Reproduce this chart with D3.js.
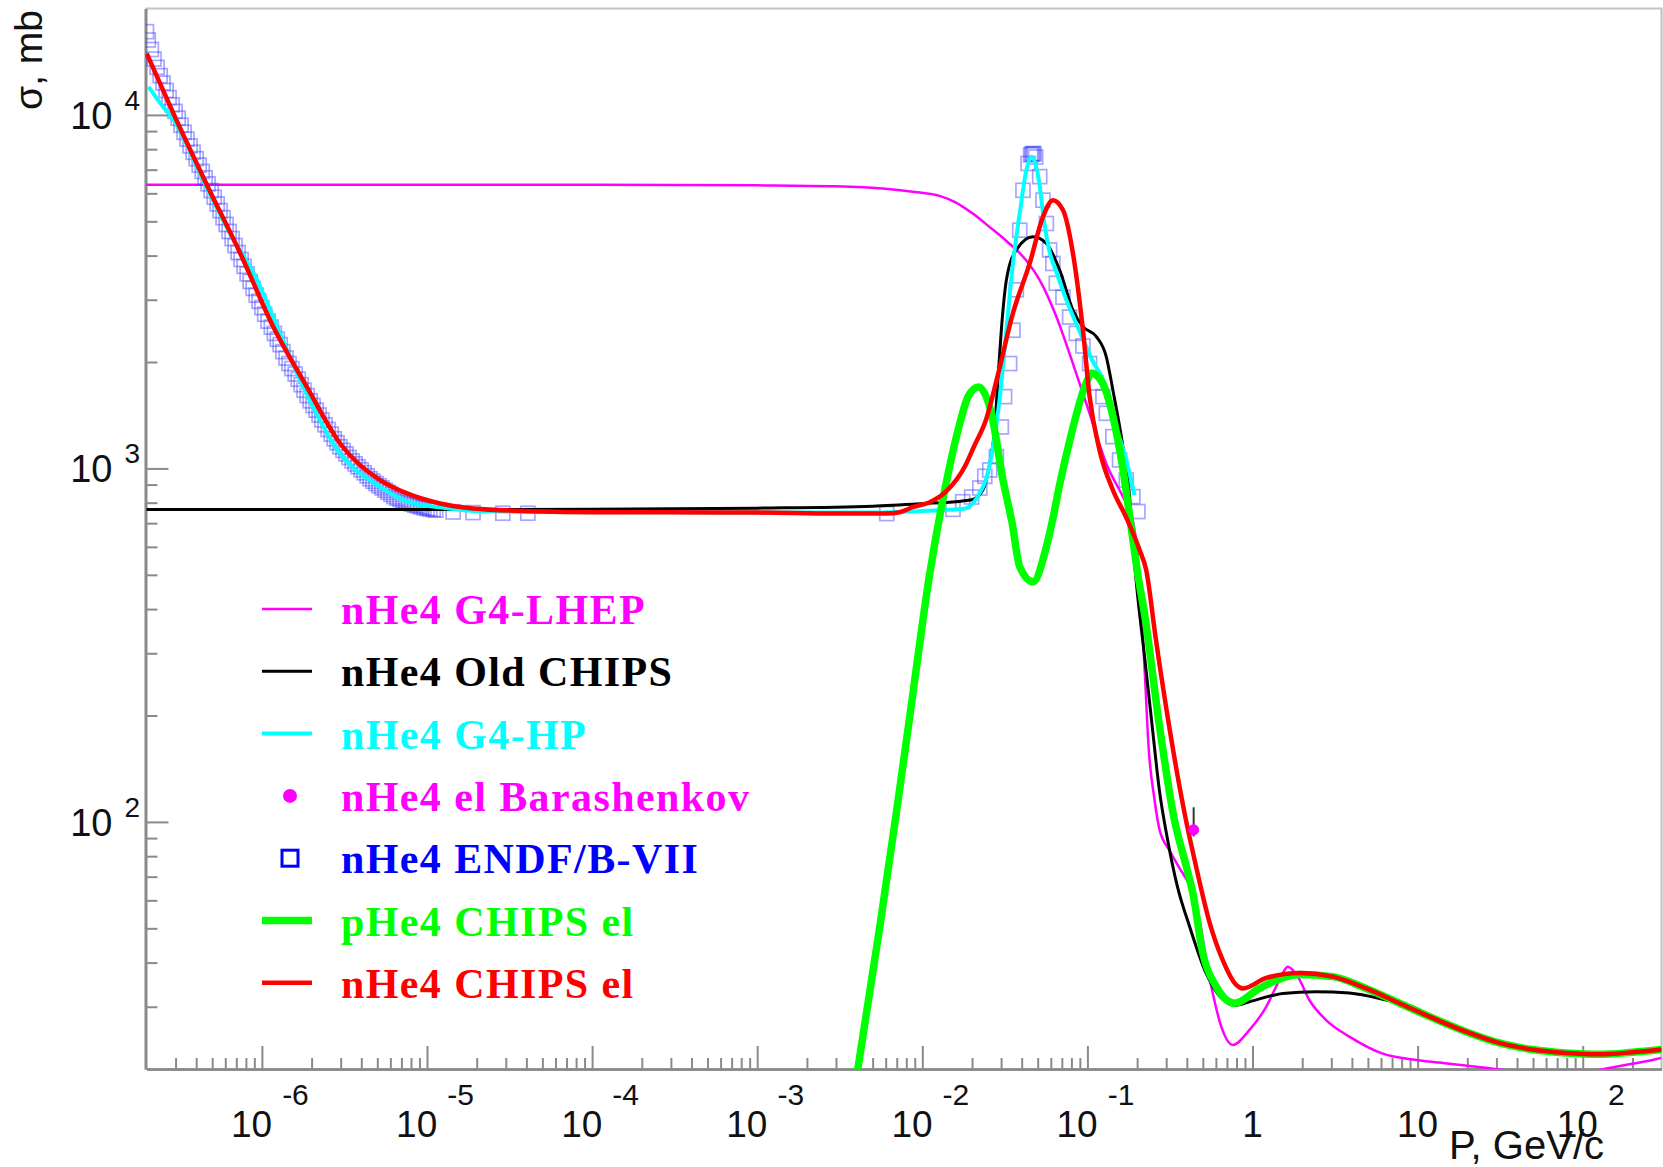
<!DOCTYPE html>
<html><head><meta charset="utf-8">
<script src="https://cdn.jsdelivr.net/npm/d3@7"></script>
<style>html,body{margin:0;padding:0;background:#fff}svg{display:block}</style>
</head><body>
<svg id="chart" width="1663" height="1167"></svg>
<script>
// ---------------- DATA (P in GeV/c, sigma in mb) ----------------
const g4lhep = [[2e-7,6350],[1e-5,6350],[1e-4,6350],[1e-3,6320],[3e-3,6280],[6e-3,6180],[9e-3,6050],[0.0127,5900],[0.016,5650],[0.0203,5250],[0.0258,4800],[0.0323,4400],[0.0425,3880],[0.0514,3410],[0.0648,2690],[0.0817,1980],[0.1031,1430],[0.130,1033],[0.164,832],[0.185,740],[0.205,520],[0.223,260],[0.2347,163],[0.2554,115],[0.2734,95],[0.3145,83],[0.3614,74],[0.4158,66],[0.478,52.7],[0.5247,40.6],[0.575,32.7],[0.6462,26.4],[0.76,23.4],[0.959,25.8],[1.21,30],[1.457,35.7],[1.636,38.9],[1.88,36.5],[2.214,31.3],[2.79,27.5],[3.86,24.7],[6.15,22.1],[9.8,21.2],[15.6,20.7],[24.9,20.2],[39.6,19.7],[62.9,19.5],[100,19.6],[159,20.3],[200,20.7],[277,21.3],[300,21.5]];

const oldChips = [[2e-7,765],[1e-5,765],[1e-4,766],[1e-3,772],[5e-3,782],[0.01,795],[0.0171,808],[0.0200,815],[0.0233,870],[0.0256,1033],[0.0274,1283],[0.0287,1778],[0.0301,2462],[0.0323,3410],[0.0371,4150],[0.0468,4520],[0.0564,4330],[0.0679,3640],[0.0817,2805],[0.0939,2518],[0.1132,2360],[0.130,2072],[0.1426,1667],[0.164,1152],[0.180,832],[0.193,539],[0.2233,286],[0.2467,187],[0.273,122.6],[0.3015,92.4],[0.350,65.9],[0.4158,50.6],[0.5225,37.4],[0.638,32.0],[0.797,30.3],[0.959,31.0],[1.525,32.7],[2.43,33.1],[3.86,32.8],[6.15,31.5],[9.8,29.7],[12.3,27.9],[19.6,25.5],[31.2,23.7],[49.6,22.7],[78.9,22.2],[125.6,22.0],[200,22.3],[300,22.7]];

const g4hp = [[2.06e-7,12000],[2.42e-7,10800],[2.91e-7,9690],[4.6e-7,6270],[6.7e-7,4450],[8.1e-7,3850],[9.1e-7,3500],[1.02e-6,3120],[1.17e-6,2680],[1.78e-6,1702],[2.97e-6,1104],[5.19e-6,887],[8.26e-6,796],[1.2e-5,776],[2.1e-5,757],[1e-4,752],[1e-3,750],[5e-3,750],[0.0127,762],[0.0176,768],[0.0204,800],[0.0225,860],[0.0245,940],[0.0268,1152],[0.0295,1596],[0.0323,2462],[0.0354,3800],[0.0389,5270],[0.0427,6980],[0.0459,7620],[0.0514,6300],[0.0546,5000],[0.0590,4100],[0.0648,3600],[0.0745,3000],[0.0898,2440],[0.1083,2000],[0.1246,1780],[0.1426,1400],[0.1719,1057],[0.193,840]];

const baraP = [0.44];
const baraS = [95];
const baraErr = [[91,110]];

const endf = [[2.0e-7,17200],[2.05e-7,16290],[2.14e-7,15310],[2.22e-7,14390],[2.32e-7,13630],[2.42e-7,12910],[2.52e-7,12300],[2.63e-7,11720],[2.74e-7,11190],[2.86e-7,10680],[2.98e-7,10230],[3.11e-7,9790],[3.24e-7,9350],[3.38e-7,8930],[3.52e-7,8540],[3.67e-7,8170],[3.83e-7,7840],[4.00e-7,7520],[4.17e-7,7210],[4.35e-7,6920],[4.53e-7,6640],[4.72e-7,6380],[4.93e-7,6110],[5.14e-7,5850],[5.36e-7,5600],[5.58e-7,5360],[5.82e-7,5120],[6.07e-7,4900],[6.33e-7,4680],[6.60e-7,4470],[6.88e-7,4270],[7.18e-7,4080],[7.48e-7,3900],[7.80e-7,3730],[8.14e-7,3550],[8.49e-7,3380],[8.85e-7,3230],[9.23e-7,3090],[9.61e-7,2970],[1.00e-6,2850],[1.04e-6,2730],[1.09e-6,2610],[1.14e-6,2510],[1.19e-6,2410],[1.24e-6,2320],[1.29e-6,2240],[1.34e-6,2140],[1.40e-6,2052],[1.46e-6,1980],[1.52e-6,1916],[1.59e-6,1850],[1.66e-6,1788],[1.73e-6,1725],[1.80e-6,1664],[1.88e-6,1607],[1.96e-6,1553],[2.04e-6,1507],[2.13e-6,1462],[2.22e-6,1416],[2.31e-6,1371],[2.41e-6,1329],[2.52e-6,1289],[2.63e-6,1250],[2.74e-6,1213],[2.85e-6,1182],[2.97e-6,1151],[3.10e-6,1125],[3.23e-6,1099],[3.37e-6,1074],[3.52e-6,1050],[3.67e-6,1030],[3.82e-6,1011],[3.99e-6,991],[4.16e-6,972],[4.34e-6,953],[4.52e-6,935],[4.71e-6,920],[4.91e-6,906],[5.12e-6,893],[5.34e-6,881],[5.57e-6,868],[5.81e-6,856],[6.06e-6,844],[6.31e-6,832],[6.59e-6,824],[6.87e-6,817],[7.16e-6,810],[7.46e-6,803],[7.78e-6,797],[8.11e-6,792],[8.46e-6,787],[8.82e-6,783],[9.20e-6,778],[9.59e-6,774],[1.00e-5,771],[1.04e-5,768],[1.09e-5,765],[1.13e-5,762],[1.44e-5,753],[1.90e-5,750],[2.88e-5,747],[4.08e-5,747],[6.09e-3,745],[0.01534,766],[0.01757,805],[0.0199,830],[0.0223,880],[0.0239,950],[0.0256,990],[0.0281,1080],[0.0301,1310],[0.0315,1596],[0.0338,1980],[0.0354,2460],[0.0371,3200],[0.0389,4720],[0.0407,6120],[0.0437,7290],[0.0453,7700],[0.0460,7750],[0.0468,7780],[0.0475,7760],[0.0486,7600],[0.0514,6690],[0.0538,5740],[0.0564,4930],[0.0590,4150],[0.0618,3800],[0.0648,3340],[0.0711,3050],[0.0780,2680],[0.0857,2410],[0.0939,2220],[0.1031,1980],[0.1132,1745],[0.1242,1596],[0.1301,1432],[0.1426,1230],[0.1566,1057],[0.1719,927],[0.1885,832],[0.2022,755]];

const pChipsEl = [[0.004,19],[0.00554,50.9],[0.00696,106],[0.00875,229],[0.0110,492],[0.0138,887],[0.0166,1302],[0.0190,1601],[0.0219,1700],[0.0262,1432],[0.0308,927],[0.0350,700],[0.0389,527],[0.0468,478],[0.0564,600],[0.0618,722],[0.0679,900],[0.0779,1191],[0.0986,1750],[0.1060,1858],[0.1233,1745],[0.1413,1432],[0.162,1033],[0.185,670],[0.200,516],[0.2233,380],[0.273,187],[0.3333,103.5],[0.4058,72],[0.4351,62.8],[0.50,42.5],[0.603,34.2],[0.778,30.7],[1.10,33.8],[1.525,36.2],[1.925,37.0],[3.06,36.5],[4.88,33.8],[7.76,30.7],[12.3,27.9],[19.6,25.5],[31.2,23.7],[49.6,22.7],[78.9,22.2],[125.6,22.0],[200,22.3],[300,22.7]];

const nChipsEl = [[2.01e-7,14900],[2.91e-7,10100],[4.6e-7,6400],[7.4e-7,4055],[1.17e-6,2520],[1.87e-6,1702],[2.97e-6,1178],[5.2e-6,927],[7.5e-6,851],[1.2e-5,796],[1.9e-5,770],[5e-5,755],[1e-4,752],[1e-3,750],[3e-3,745],[6e-3,745],[0.0073,752],[0.0088,778],[0.011,801],[0.01395,861],[0.0184,1028],[0.0205,1150],[0.0244,1380],[0.0285,1815],[0.0354,2748],[0.0447,3800],[0.0538,5150],[0.0618,5740],[0.0711,5380],[0.0817,4060],[0.0939,2466],[0.1031,1596],[0.1183,1128],[0.1426,869],[0.171,730],[0.207,588],[0.227,516],[0.2594,330],[0.3166,180],[0.3868,106.4],[0.4515,76],[0.549,52],[0.661,40.6],[0.797,34.6],[0.874,33.8],[1.21,36.2],[1.925,37.4],[3.06,36.5],[4.88,33.8],[7.76,30.7],[12.3,27.9],[19.6,25.5],[31.2,23.7],[49.6,22.7],[78.9,22.2],[125.6,22.0],[200,22.3],[300,22.7]];

// tick labels
const xMajor = [1e-6,1e-5,1e-4,1e-3,1e-2,1e-1,1,10,100];
const xLabelBase = ["10","10","10","10","10","10","1","10","10"];
const xLabelExp = ["-6","-5","-4","-3","-2","-1","","","2"];
const yMajor = [100,1000,10000];
const yLabelBase = ["10","10","10"];
const yLabelExp = ["2","3","4"];

// legend
const legendLabels = ["nHe4 G4-LHEP","nHe4 Old CHIPS","nHe4 G4-HP","nHe4 el Barashenkov","nHe4 ENDF/B-VII","pHe4 CHIPS el","nHe4 CHIPS el"];
const legendColors = ["#ff00ff","#000000","#00ffff","#ff00ff","#0000ff","#00ff00","#ff0000"];
const legendKinds = ["line","line","line","dot","square","line","line"];
const legendWidths = [2.5,3,4,0,0,7.5,4.5];

// ---------------- DRAWING ----------------
const svg = d3.select("#chart");
const L = 145.5, R = 1661.5, T = 8.5, B = 1069;
const x = d3.scaleLog().domain([2e-7, 300]).range([146.5, 1661.5]);
const y = d3.scaleLog().domain([20, 20000]).range([B, T]);
const sans = "'Liberation Sans', Arial, Helvetica, sans-serif";
const serif = "'Liberation Serif', 'Times New Roman', serif";

svg.append("rect").attr("width",1663).attr("height",1167).attr("fill","#fff");

svg.append("defs").append("clipPath").attr("id","plotclip")
  .append("rect").attr("x",L).attr("y",T).attr("width",R-L).attr("height",B-T);

// frame top/right
svg.append("path").attr("d",`M${L},${T}H${R}V${B}`).attr("fill","none")
  .attr("stroke","#c4c4c4").attr("stroke-width",2.2);

// minor/major tick values
const xMinor = [];
d3.range(-7,3).forEach(k=>d3.range(2,10).forEach(m=>{const v=m*Math.pow(10,k); if(v>2.01e-7 && v<299) xMinor.push(v);}));
const yMinor = [];
d3.range(1,5).forEach(k=>d3.range(2,10).forEach(m=>{const v=m*Math.pow(10,k); if(v>20.1 && v<19999) yMinor.push(v);}));

function styleAxis(g){
  g.selectAll(".domain").attr("stroke","#8a8a8a").attr("stroke-width",2.6);
  g.selectAll(".tick line").attr("stroke","#8a8a8a").attr("stroke-width",2);
  g.selectAll(".tick text").remove();
}
const gxMin = svg.append("g").attr("transform",`translate(0,${B})`)
  .call(d3.axisBottom(x).tickValues(xMinor).tickSizeInner(-11).tickSizeOuter(0).tickFormat(()=>""));
styleAxis(gxMin);
const gxMaj = svg.append("g").attr("transform",`translate(0,${B})`)
  .call(d3.axisBottom(x).tickValues(xMajor).tickSizeInner(-23).tickSizeOuter(0).tickFormat(()=>""));
styleAxis(gxMaj);
const gyMin = svg.append("g").attr("transform",`translate(${L},0)`)
  .call(d3.axisLeft(y).tickValues(yMinor).tickSizeInner(-12).tickSizeOuter(0).tickFormat(()=>""));
styleAxis(gyMin);
const gyMaj = svg.append("g").attr("transform",`translate(${L},0)`)
  .call(d3.axisLeft(y).tickValues(yMajor).tickSizeInner(-23).tickSizeOuter(0).tickFormat(()=>""));
styleAxis(gyMaj);

// x labels
xMajor.forEach((v,i)=>{
  const t = svg.append("text").attr("y",1137).attr("font-family",sans).attr("font-size",37)
    .attr("fill","#111").attr("text-anchor","middle");
  if(xLabelExp[i]){
    t.attr("x", x(v)+8);
    t.append("tspan").text(xLabelBase[i]);
    t.append("tspan").attr("dx",10).attr("dy",-32).attr("font-size",30).text(xLabelExp[i]);
  } else {
    t.attr("x", x(v)).text(xLabelBase[i]);
  }
});
// y labels
yMajor.forEach((v,i)=>{
  const t = svg.append("text").attr("x",140).attr("y",y(v)+14).attr("font-family",sans)
    .attr("font-size",38).attr("fill","#111").attr("text-anchor","end");
  t.append("tspan").text(yLabelBase[i]);
  t.append("tspan").attr("dx",12).attr("dy",-19).attr("font-size",28).text(yLabelExp[i]);
});

// axis titles
svg.append("text").attr("x",1604).attr("y",1159).attr("text-anchor","end")
  .attr("font-family",sans).attr("font-size",40).attr("fill","#111").text("P, GeV/c");
svg.append("text").attr("transform","translate(42,10) rotate(-90)").attr("text-anchor","end")
  .attr("font-family",sans).attr("font-size",39).attr("fill","#111").text("σ, mb");

// curves
const plot = svg.append("g").attr("clip-path","url(#plotclip)");
const line = d3.line().x(d=>x(d[0])).y(d=>y(d[1])).curve(d3.curveMonotoneX);

plot.append("path").datum(g4lhep).attr("d",line).attr("fill","none")
  .attr("stroke","#ff00ff").attr("stroke-width",2.5);

plot.append("g").selectAll("rect").data(endf).join("rect")
  .attr("x",d=>x(d[0])-7).attr("y",d=>y(d[1])-7).attr("width",14).attr("height",14)
  .attr("fill","none").attr("stroke","#3a3aff").attr("stroke-opacity",0.45).attr("stroke-width",1.7);

plot.append("path").datum(oldChips).attr("d",line).attr("fill","none")
  .attr("stroke","#000").attr("stroke-width",3);
plot.append("path").datum(g4hp).attr("d",line).attr("fill","none")
  .attr("stroke","#00ffff").attr("stroke-width",4);
plot.append("path").datum(pChipsEl).attr("d",line).attr("fill","none")
  .attr("stroke","#00ff00").attr("stroke-width",7.5);
plot.append("path").datum(nChipsEl).attr("d",line).attr("fill","none")
  .attr("stroke","#ff0000").attr("stroke-width",4.5);

// Barashenkov point
baraP.forEach((p,i)=>{
  plot.append("line").attr("x1",x(p)).attr("x2",x(p)).attr("y1",y(baraErr[i][0])).attr("y2",y(baraErr[i][1]))
    .attr("stroke","#333").attr("stroke-width",2);
  plot.append("circle").attr("cx",x(p)).attr("cy",y(baraS[i])).attr("r",5.5).attr("fill","#ff00ff");
});

// legend
const lg = svg.append("g");
legendLabels.forEach((lab,i)=>{
  const ry = 609 + i*62.3;
  const c = legendColors[i];
  if(legendKinds[i]==="line"){
    lg.append("line").attr("x1",262).attr("x2",312).attr("y1",ry).attr("y2",ry)
      .attr("stroke",c).attr("stroke-width",legendWidths[i]);
  } else if(legendKinds[i]==="dot"){
    lg.append("circle").attr("cx",290).attr("cy",ry).attr("r",7).attr("fill",c);
  } else {
    lg.append("rect").attr("x",282).attr("y",ry-8).attr("width",16).attr("height",16)
      .attr("fill","none").attr("stroke",c).attr("stroke-width",3);
  }
  lg.append("text").attr("x",341).attr("y",ry+15).attr("font-family",serif).attr("font-weight","bold")
    .attr("font-size",42).attr("letter-spacing","1.4px").attr("fill",c).text(lab);
});
</script>
</body></html>
